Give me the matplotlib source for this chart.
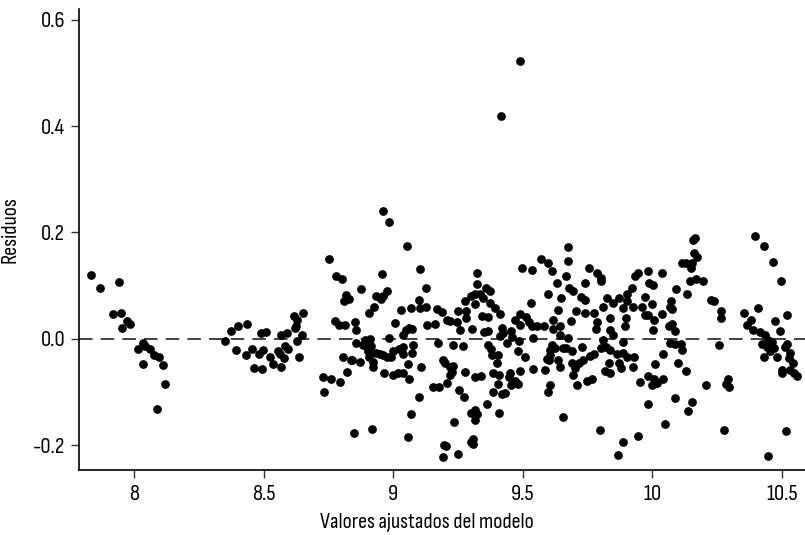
import matplotlib
matplotlib.use("Agg")
import matplotlib.pyplot as plt
import numpy as np

plt.rcParams["font.family"] = ["Sofia Sans Condensed", "DejaVu Sans"]

# valores ajustados (x) y residuos (y), leidos por tramos del eje x
x_a = [7.831, 7.868, 7.941, 7.919, 7.949, 7.953, 7.972, 7.983, 8.016, 8.035,
       8.032, 8.043, 8.060, 8.075, 8.095, 8.111, 8.117, 8.088]
y_a = [0.119, 0.095, 0.106, 0.046, 0.048, 0.021, 0.034, 0.028, -0.019, -0.008,
       -0.047, -0.014, -0.019, -0.030, -0.035, -0.050, -0.085, -0.133]

x_b = [8.350, 8.373, 8.400, 8.392, 8.436, 8.430, 8.455, 8.463, 8.491, 8.508,
       8.482, 8.496, 8.494, 8.524, 8.534, 8.565, 8.565, 8.591, 8.556, 8.562,
       8.582, 8.578, 8.594, 8.616, 8.629, 8.652, 8.620, 8.624, 8.647, 8.629,
       8.637]
y_b = [-0.005, 0.015, 0.024, -0.021, 0.028, -0.031, -0.019, -0.056, 0.010, 0.012,
       -0.028, -0.022, -0.057, -0.035, -0.048, -0.054, 0.007, 0.010, -0.023, -0.028,
       -0.014, -0.037, -0.020, 0.043, 0.035, 0.048, 0.021, 0.024, 0.007, -0.004,
       -0.034]

x_c = [8.750, 8.779, 8.802, 8.817, 8.810, 8.828, 8.776, 8.792, 8.815, 8.851,
       8.856, 8.807, 8.838, 8.820, 8.794, 8.730, 8.761, 8.732, 8.848, 8.856,
       8.959, 8.982, 9.052, 8.955, 9.103, 8.876, 8.933, 8.951, 8.962, 8.977,
       8.926, 8.908, 9.127, 9.101, 9.030, 9.067, 9.103, 9.127, 9.170, 9.187,
       9.007, 9.062, 9.073, 9.049, 9.039, 9.129, 9.163, 8.985, 8.891, 8.910,
       8.885, 8.897, 8.904, 8.913, 8.908, 8.923, 8.923, 8.933, 8.949, 8.962,
       8.977, 8.990, 9.000, 9.021, 9.039, 9.039, 9.071, 9.078, 9.055, 9.106,
       9.061, 9.000, 9.020, 9.039, 8.964, 8.872, 8.839, 9.173, 9.194, 9.152,
       9.178, 9.100, 9.067, 8.918, 9.058, 9.196, 9.194]
y_c = [0.150, 0.117, 0.112, 0.082, 0.070, 0.075, 0.033, 0.026, 0.025, 0.032,
       0.016, -0.034, -0.041, -0.063, -0.081, -0.073, -0.075, -0.100, -0.177, -0.008,
       0.241, 0.220, 0.175, 0.121, 0.132, 0.093, 0.080, 0.075, 0.080, 0.090,
       0.060, 0.048, 0.095, 0.073, 0.054, 0.058, 0.057, 0.059, 0.055, 0.050,
       0.029, 0.021, 0.019, 0.016, 0.007, 0.025, 0.027, 0.001, -0.003, -0.001,
       -0.012, -0.015, -0.024, -0.014, -0.034, -0.043, -0.053, -0.026, -0.029, -0.031,
       -0.034, -0.035, -0.023, -0.020, -0.015, -0.028, -0.026, -0.012, -0.048, -0.054,
       -0.075, -0.069, -0.065, -0.064, -0.064, -0.043, -0.040, -0.009, -0.041, -0.090,
       -0.090, -0.109, -0.142, -0.169, -0.185, -0.200, -0.222]

x_d = [9.490, 9.415, 9.496, 9.534, 9.322, 9.324, 9.360, 9.373, 9.302, 9.315,
       9.335, 9.347, 9.315, 9.277, 9.373, 9.393, 9.414, 9.530, 9.251, 9.280,
       9.280, 9.208, 9.221, 9.247, 9.341, 9.364, 9.257, 9.305, 9.351, 9.364,
       9.418, 9.425, 9.414, 9.454, 9.470, 9.489, 9.489, 9.512, 9.525, 9.534,
       9.457, 9.485, 9.441, 9.541, 9.229, 9.270, 9.367, 9.376, 9.380, 9.405,
       9.402, 9.480, 9.508, 9.541, 9.489, 9.199, 9.219, 9.232, 9.225, 9.219,
       9.277, 9.208, 9.315, 9.338, 9.386, 9.409, 9.450, 9.448, 9.405, 9.418,
       9.431, 9.453, 9.470, 9.480, 9.386, 9.255, 9.274, 9.363, 9.409, 9.302,
       9.315, 9.324, 9.315, 9.234, 9.306, 9.302, 9.309, 9.203, 9.251]
y_d = [0.522, 0.419, 0.133, 0.129, 0.124, 0.102, 0.096, 0.090, 0.080, 0.084,
       0.085, 0.076, 0.066, 0.070, 0.068, 0.058, 0.046, 0.068, 0.053, 0.052,
       0.039, 0.035, 0.034, 0.032, 0.043, 0.041, 0.016, 0.019, 0.013, 0.015,
       0.021, 0.010, 0.006, 0.014, 0.035, 0.026, 0.046, 0.041, 0.032, 0.023,
       0.004, -0.004, -0.009, 0.001, -0.012, -0.014, -0.012, -0.019, -0.031, -0.031,
       -0.045, -0.023, -0.034, -0.057, -0.060, -0.046, -0.053, -0.051, -0.062, -0.068,
       -0.062, -0.083, -0.073, -0.070, -0.065, -0.068, -0.065, -0.073, -0.086, -0.104,
       -0.103, -0.087, -0.080, -0.086, -0.101, -0.096, -0.110, -0.123, -0.139, -0.139,
       -0.134, -0.142, -0.153, -0.156, -0.189, -0.195, -0.198, -0.201, -0.217]

x_e = [9.676, 9.570, 9.599, 9.674, 9.612, 9.757, 9.786, 9.804, 9.804, 9.666,
       9.634, 9.741, 9.680, 9.693, 9.724, 9.741, 9.599, 9.646, 9.824, 9.850,
       9.873, 9.889, 9.809, 9.775, 9.741, 9.706, 9.637, 9.837, 9.788, 9.685,
       9.618, 9.554, 9.582, 9.616, 9.644, 9.783, 9.837, 9.850, 9.895, 9.644,
       9.676, 9.809, 9.889, 9.612, 9.605, 9.625, 9.657, 9.667, 9.689, 9.729,
       9.822, 9.837, 9.801, 9.775, 9.760, 9.863, 9.886, 9.605, 9.603, 9.637,
       9.689, 9.731, 9.719, 9.702, 9.695, 9.644, 9.592, 9.586, 9.835, 9.818,
       9.837, 9.873, 9.878, 9.750, 9.766, 9.711, 9.605, 9.599, 9.657, 9.798,
       9.889, 9.866]
y_e = [0.173, 0.149, 0.143, 0.146, 0.127, 0.133, 0.123, 0.115, 0.108, 0.117,
       0.104, 0.105, 0.096, 0.090, 0.079, 0.073, 0.084, 0.077, 0.076, 0.068,
       0.076, 0.057, 0.059, 0.048, 0.048, 0.053, 0.054, 0.038, 0.032, 0.034,
       0.036, 0.024, 0.023, 0.019, 0.024, 0.018, 0.016, 0.007, 0.023, 0.007,
       0.001, -0.003, -0.006, -0.012, -0.021, -0.018, -0.017, -0.018, -0.023, -0.015,
       -0.015, -0.021, -0.018, -0.028, -0.033, -0.029, -0.026, -0.031, -0.040, -0.040,
       -0.046, -0.040, -0.046, -0.056, -0.068, -0.053, -0.039, -0.058, -0.045, -0.060,
       -0.064, -0.046, -0.056, -0.079, -0.075, -0.088, -0.087, -0.101, -0.148, -0.172,
       -0.194, -0.219]

x_f = [10.166, 10.159, 10.162, 10.172, 10.114, 10.131, 10.153, 10.150, 10.146, 10.170,
       10.195, 10.226, 10.237, 10.092, 10.134, 10.037, 9.985, 9.934, 9.947, 9.989,
       10.002, 9.921, 9.973, 10.001, 10.072, 10.069, 10.076, 10.037, 9.902, 9.904,
       9.925, 9.960, 9.973, 9.985, 10.007, 9.899, 10.002, 10.063, 10.076, 10.089,
       10.067, 10.089, 10.110, 10.114, 9.902, 9.928, 9.925, 10.041, 10.009, 10.098,
       10.131, 9.985, 10.005, 10.018, 9.998, 10.043, 9.951, 10.208, 10.089, 9.982,
       10.153, 10.140, 10.050, 9.947]
y_f = [0.190, 0.185, 0.162, 0.154, 0.143, 0.142, 0.142, 0.133, 0.108, 0.112,
       0.109, 0.073, 0.070, 0.093, 0.085, 0.123, 0.128, 0.118, 0.123, 0.104,
       0.101, 0.096, 0.079, 0.066, 0.071, 0.059, 0.055, 0.046, 0.084, 0.070,
       0.059, 0.060, 0.044, 0.045, 0.036, 0.038, 0.016, 0.023, 0.028, 0.015,
       -0.009, -0.010, -0.010, -0.021, -0.034, -0.034, -0.053, -0.029, -0.048, -0.046,
       -0.061, -0.070, -0.075, -0.084, -0.088, -0.075, -0.081, -0.088, -0.111, -0.122,
       -0.120, -0.136, -0.160, -0.183]

x_g = [10.398, 10.433, 10.466, 10.497, 10.267, 10.267, 10.355, 10.407, 10.520, 10.473,
       10.381, 10.366, 10.389, 10.492, 10.417, 10.437, 10.449, 10.462, 10.424, 10.443,
       10.469, 10.456, 10.482, 10.433, 10.259, 10.520, 10.514, 10.531, 10.527, 10.543,
       10.501, 10.501, 10.533, 10.546, 10.561, 10.291, 10.286, 10.295, 10.278, 10.518,
       10.446]
y_g = [0.194, 0.174, 0.145, 0.108, 0.053, 0.039, 0.048, 0.058, 0.044, 0.034,
       0.035, 0.026, 0.016, 0.015, 0.013, 0.007, -0.003, -0.006, -0.010, -0.015,
       -0.018, -0.024, -0.034, -0.034, -0.012, -0.010, -0.015, -0.026, -0.037, -0.045,
       -0.058, -0.064, -0.059, -0.064, -0.071, -0.075, -0.086, -0.090, -0.172, -0.173,
       -0.221]

x_ticks = [8, 8.5, 9, 9.5, 10, 10.5]
x_tick_labels = ["8", "8.5", "9", "9.5", "10", "10.5"]
y_ticks = [-0.2, 0.0, 0.2, 0.4, 0.6]
y_tick_labels = ["-0.2", "0.0", "0.2", "0.4", "0.6"]

ajustados = np.concatenate([x_a, x_b, x_c, x_d, x_e, x_f, x_g])
residuos = np.concatenate([y_a, y_b, y_c, y_d, y_e, y_f, y_g])

fig = plt.figure(figsize=(8.05, 5.35), dpi=100)
ax = fig.add_axes([0.098, 0.1215, 0.902, 0.8625])

ax.axhline(0, color="#333333", lw=1.3, ls=(0, (7.5, 4.5)), zorder=1)
ax.plot(ajustados, residuos, "o", color="black", ms=6.3, mew=0, zorder=2)

ax.set_xlim(7.786, 10.59)
ax.set_ylim(-0.247, 0.621)

ax.set_xticks(x_ticks)
ax.set_xticklabels(x_tick_labels)
ax.set_yticks(y_ticks)
ax.set_yticklabels(y_tick_labels)

for side in ["top", "right"]:
    ax.spines[side].set_visible(False)
for side in ["left", "bottom"]:
    ax.spines[side].set_linewidth(1.2)

ax.tick_params(axis="both", direction="out", length=6, width=1, color="#333333",
               labelsize=16.5)
ax.tick_params(axis="x", pad=5)
ax.tick_params(axis="y", pad=4)

ax.set_xlabel("Valores ajustados del modelo", fontsize=16)
ax.set_ylabel("Residuos", fontsize=16)
ax.xaxis.set_label_coords(0.479, -0.094)
ax.yaxis.set_label_coords(-0.082, 0.52)

plt.savefig("out.png", dpi=100)
plt.close()
